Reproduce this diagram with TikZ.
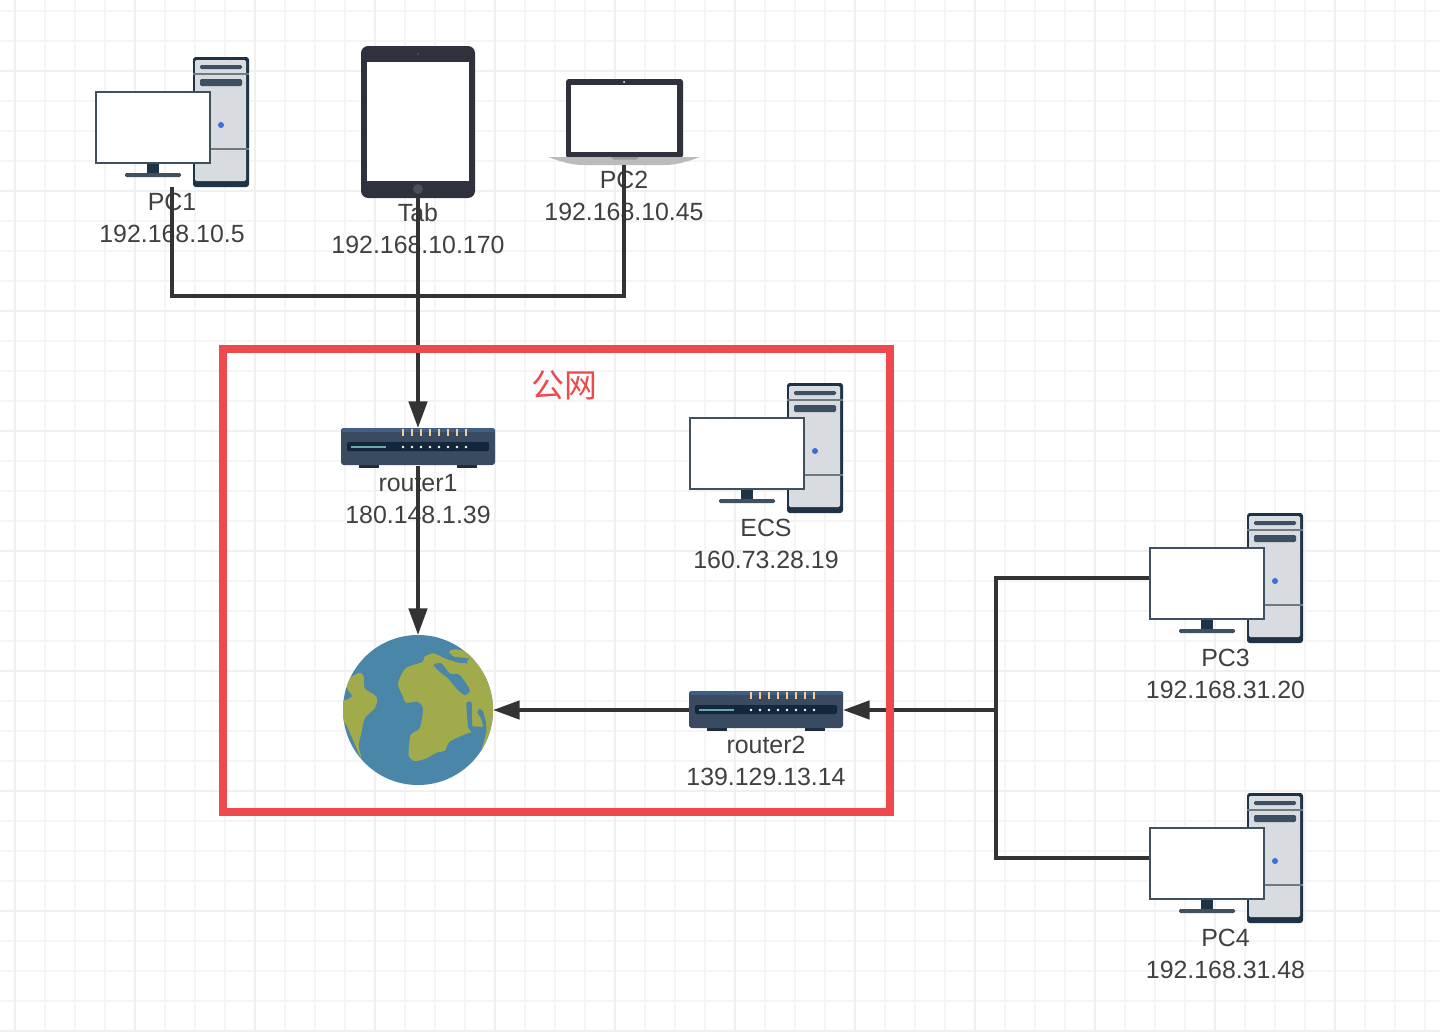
\documentclass[tikz,border=0pt]{standalone}
\usepackage{fontspec}
\setmainfont{Liberation Sans}
\newfontfamily\cjkfont{Noto Sans CJK SC}
\usetikzlibrary{arrows.meta}

\definecolor{gridminor}{HTML}{F5F5F5}
\definecolor{gridmajor}{HTML}{F0F0F0}
\definecolor{wirecol}{HTML}{333333}
\definecolor{labelcol}{HTML}{404040}
\definecolor{redbox}{HTML}{EE4A4E}
\definecolor{towerdark}{HTML}{1F3347}
\definecolor{towerlight}{HTML}{D8DBDF}
\definecolor{towerline}{HTML}{6F7B7D}
\definecolor{slotcol}{HTML}{3C4F63}
\definecolor{screenedge}{HTML}{3F5060}
\definecolor{ledblue}{HTML}{3B6FD6}
\definecolor{padcol}{HTML}{2F323C}
\definecolor{padbutton}{HTML}{4A4E5A}
\definecolor{laptopbase}{HTML}{BBBBBB}
\definecolor{laptopnotch}{HTML}{9A9A9A}
\definecolor{routerbody}{HTML}{3A4A60}
\definecolor{routertop}{HTML}{3F5F85}
\definecolor{routerpanel}{HTML}{12283A}
\definecolor{routerfoot}{HTML}{1A2C3E}
\definecolor{routerbar}{HTML}{6FA8A8}
\definecolor{routerled}{HTML}{F6CE94}
\definecolor{ocean}{HTML}{4A86A8}
\definecolor{land}{HTML}{A1AB4C}

\tikzset{
	hole/.style = {draw = none, inner sep = 0pt, outer sep = 0pt},
	pcbox/.style = {hole, minimum width = 3.85cm, minimum height = 3.25cm},
	padbox/.style = {hole, minimum width = 2.85cm, minimum height = 3.8cm},
	laptopbox/.style = {hole, minimum width = 3.8cm, minimum height = 2.15cm},
	routerbox/.style = {hole, minimum width = 3.85cm, minimum height = 0.95cm},
	globebox/.style = {hole, circle, minimum size = 3.75cm, fill = ocean},
	devlabel/.style = {align = center, text = labelcol, inner sep = 0pt,
		font = \fontsize{17.7}{22.7}\selectfont},
	wire/.style = {draw = wirecol, line width = 2.8pt},
	arrowwire/.style = {wire, -{Triangle[length = 19pt, width = 13pt]}},
	desktop/.pic = {
		\fill[towerdark, rounded corners = 2pt] (21, -65) rectangle (77, 65);
		\fill[towerlight, rounded corners = 1pt] (23, -62) rectangle (74, 59);
		\draw[towerline, line width = 0.9pt] (21, -48) -- (77, -48);
		\draw[towerline, line width = 0.9pt] (21, 27) -- (77, 27);
		\fill[slotcol, rounded corners = 1pt] (28, -57) rectangle (70, -53);
		\fill[slotcol, rounded corners = 1pt] (28, -43) rectangle (70, -36);
		\fill[ledblue] (49, 3) circle [radius = 3];
		\filldraw[draw = screenedge, fill = white, line width = 1.8pt] (-76, -30) rectangle (38, 41);
		\fill[towerdark] (-25, 42) rectangle (-13, 51);
		\fill[screenedge, rounded corners = 1pt] (-47, 51) rectangle (9, 55);
	},
	tablet/.pic = {
		\fill[padcol, rounded corners = 5pt] (-57, -76) rectangle (57, 76);
		\fill[white] (-51, -60) rectangle (51, 59);
		\fill[padbutton] (0, 67) circle [radius = 5];
		\fill[padbutton] (0, -68) circle [radius = 1.5];
	},
	laptop/.pic = {
		\fill[padcol, rounded corners = 2pt] (-58, -43) rectangle (59, 36);
		\fill[white] (-53, -37) rectangle (53, 30);
		\fill[white] (0, -40) circle [radius = 1];
		\fill[laptopbase] (-76, 35) -- (76, 35) .. controls (60, 41) and (50, 43) .. (40, 43)
			-- (-40, 43) .. controls (-50, 43) and (-60, 41) .. (-76, 35) -- cycle;
		\fill[laptopnotch] (-13, 35) -- (15, 35) -- (12, 37.5) -- (-10, 37.5) -- cycle;
	},
	routericon/.pic = {
		\fill[routerfoot] (-59, 18) rectangle (-39, 21);
		\fill[routerfoot] (39, 18) rectangle (59, 21);
		\fill[routerbody, rounded corners = 2pt] (-77, -19) rectangle (77, 18);
		\fill[routertop, rounded corners = 2pt] (-77, -19) rectangle (77, -15);
		\fill[routerpanel, rounded corners = 1pt] (-71, -5) rectangle (71, 4);
		\fill[routerbar] (-67, -1) rectangle (-32, 1);
		\foreach \xled in {-15, -6, 3, 12, 21, 30, 39, 48} {
			\fill[routerled] (\xled - 1.4, -18) rectangle (\xled + 1.4, -11);
			\fill[white] (\xled, -0) circle [radius = 1.4];
		}
	},
	earth/.pic = {
		\begin{scope}
			\clip (0, 0) circle [radius = 75];
			\begin{scope}[xscale = 1/3, yscale = 1/3, shift = {(-265, -270)}]
				% big continent
				\fill[land] plot[smooth cycle, tension = 0.45] coordinates {
					(205, 190) (228, 145) (278, 126) (285, 110) (312, 100) (345, 115) (385, 128)
					(430, 140) (470, 250) (470, 320) (430, 335) (400, 345) (360, 365) (345, 392)
					(320, 398) (290, 415) (255, 423) (237, 405) (243, 345) (270, 325) (280, 265)
					(262, 245) (230, 248) (218, 225)};
				\fill[land] (412, 124) -- (425, 112) -- (520, 150) -- (520, 400) -- (450, 395) -- (465, 330) -- cycle;
				\fill[land] plot[smooth cycle, tension = 0.5] coordinates {
					(358, 95) (375, 88) (400, 92) (440, 110) (425, 116) (405, 113) (385, 112) (370, 108)};
				% left continent
				\fill[land] plot[smooth cycle, tension = 0.45] coordinates {
					(60, 175) (90, 158) (102, 170) (105, 205) (135, 225) (143, 240) (135, 265)
					(105, 295) (95, 340) (87, 375) (95, 417) (70, 360) (50, 315) (30, 290)
					(20, 248) (50, 240) (67, 228) (55, 210) (50, 190)};
				% inland water
				\fill[ocean] plot[smooth cycle, tension = 0.45] coordinates {
					(312, 135) (335, 130) (360, 160) (390, 165) (420, 210) (405, 225) (380, 205)
					(355, 175) (330, 155)};
				\fill[ocean] plot[smooth cycle, tension = 0.3] coordinates {
					(410, 250) (418, 245) (426, 248) (428, 316) (445, 320) (460, 320) (455, 297)
					(443, 277) (450, 267) (460, 274) (468, 305) (470, 335) (452, 397) (440, 370)
					(425, 335) (415, 320)};
			\end{scope}
		\end{scope}
	}
}

\begin{document}
\begin{tikzpicture}[x = 0.025cm, y = -0.025cm]

	\useasboundingbox (0, 0) rectangle (1440, 1032);
	\fill[white] (0, 0) rectangle (1440, 1032);

	% grid
	\foreach \xgrid in {15, 45, ..., 1440}
		\draw[gridminor, line width = 1.5pt] (\xgrid, 0) -- (\xgrid, 1032);
	\foreach \ygrid in {11, 41, ..., 1032}
		\draw[gridminor, line width = 1.5pt] (0, \ygrid) -- (1440, \ygrid);
	\foreach \xgrid in {15, 135, ..., 1440}
		\draw[gridmajor, line width = 2pt] (\xgrid, 0) -- (\xgrid, 1032);
	\foreach \ygrid in {71, 191, ..., 1032}
		\draw[gridmajor, line width = 2pt] (0, \ygrid) -- (1440, \ygrid);

	% devices
	\node[pcbox] (pc1) at (172, 122) {};
	\node[padbox] (tab) at (418, 122) {};
	\node[laptopbox] (pc2) at (624, 122) {};
	\node[routerbox] (router1) at (418, 447) {};
	\node[pcbox] (ecs) at (766, 448) {};
	\node[globebox] (globe) at (418, 710) {};
	\node[routerbox] (router2) at (766, 710) {};
	\node[pcbox] (pc3) at (1226, 578) {};
	\node[pcbox] (pc4) at (1226, 858) {};

	\pic at (pc1) {desktop};
	\pic at (tab) {tablet};
	\pic at (pc2) {laptop};
	\pic at (router1) {routericon};
	\pic at (ecs) {desktop};
	\pic at (globe) {earth};
	\pic at (router2) {routericon};
	\pic at (pc3) {desktop};
	\pic at (pc4) {desktop};

	% labels
	\node[devlabel] (pc1label) at (172, 218) {PC1\\192.168.10.5};
	\node[devlabel] (tablabel) at (418, 229) {Tab\\192.168.10.170};
	\node[devlabel] (pc2label) at (624, 196) {PC2\\192.168.10.45};
	\node[devlabel] (router1label) at (418, 499.5) {router1\\180.148.1.39};
	\node[devlabel] (ecslabel) at (766, 544) {ECS\\160.73.28.19};
	\node[devlabel] (router2label) at (766, 761) {router2\\139.129.13.14};
	\node[devlabel] (pc3label) at (1225.5, 674) {PC3\\192.168.31.20};
	\node[devlabel] (pc4label) at (1225.5, 954) {PC4\\192.168.31.48};

	% connectors
	\coordinate (busjoin) at (418, 296);
	\coordinate (lanjoin) at (996, 710);

	\draw[wire] (pc1.south) |- (busjoin);
	\draw[wire] (pc2.south) |- (busjoin);
	\draw[arrowwire] (tab.south) -- (router1.north);
	\draw[arrowwire] (router1.south) -- (globe.north);
	\draw[arrowwire] (router2.west) -- (globe.east);
	\draw[wire] (pc3.west) -| (lanjoin);
	\draw[wire] (pc4.west) -| (lanjoin);
	\draw[arrowwire] (lanjoin) -- (router2.east);

	% public network frame
	\node[draw = redbox, line width = 5.6pt, inner sep = 0pt, minimum width = 16.675cm, minimum height = 11.5625cm] (wan) at (556.5, 580.25) {};
	\node[text = redbox, inner sep = 0pt, font = \cjkfont\fontsize{23.4}{28}\selectfont] (wanlabel) at (564, 385) {公网};

\end{tikzpicture}
\end{document}
